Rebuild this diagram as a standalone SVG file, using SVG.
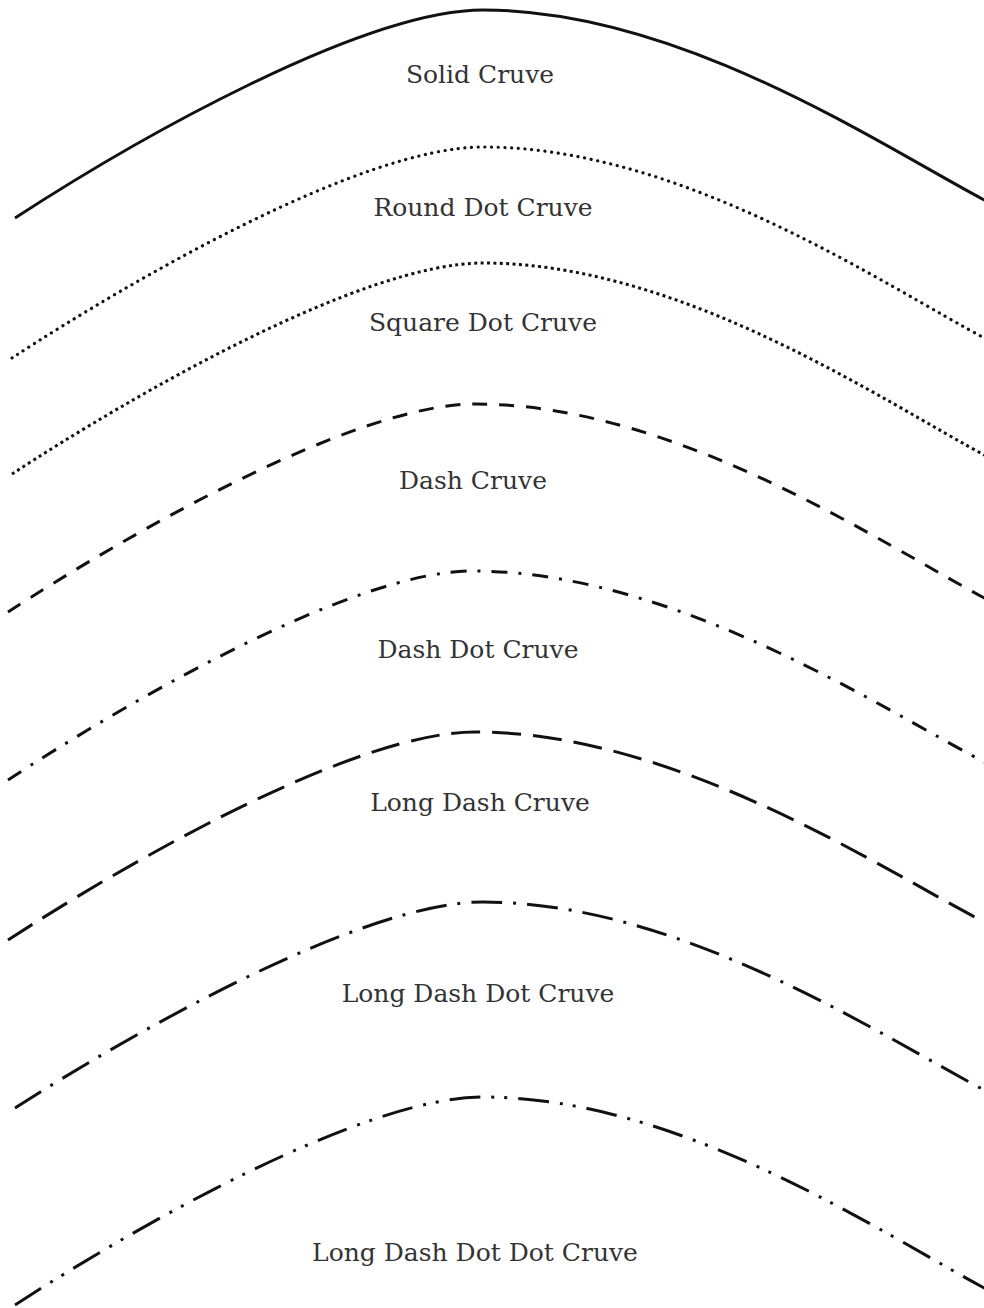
<svg xmlns="http://www.w3.org/2000/svg" width="984" height="1308" viewBox="0 0 984 1308">
<style>
.c{fill:none;stroke:#111;stroke-width:3}
.solid{stroke-width:3}
.round{stroke-dasharray:0.1 6.6;stroke-linecap:round;stroke-width:3.2}
.square{stroke-dasharray:3 3.4;stroke-width:3}
.dash{stroke-dasharray:15 12}
.dashdot{stroke-dasharray:16 11 3 11}
.longdash{stroke-dasharray:29 12}
.ldd{stroke-dasharray:31 11 3 11}
.lddd{stroke-dasharray:31 11 3 10 3 11}
text{font-family:"DejaVu Serif","Liberation Serif",serif;font-size:25px;fill:#333;text-anchor:middle}
</style>
<rect width="984" height="1308" fill="#fff"/>
<g id="solid">
<path class="c solid" d="M15 218 C135 140 363 10 483 10 C682 10 884 147.5 988 202"/>
<text x="480" y="83">Solid Cruve</text>
</g>
<g id="round-dot">
<path class="c round" d="M12 358 C133 279 362 147 483 147 C682 147 884 285 988 340"/>
<text x="483" y="216">Round Dot Cruve</text>
</g>
<g id="square-dot">
<path class="c square" d="M12 474 C133 395 362 263 483 263 C682 263 884 402 988 457"/>
<text x="483" y="331">Square Dot Cruve</text>
</g>
<g id="dash">
<path class="c dash" d="M8 612 C128 534 355 404 475 404 C677 404 882 544 988 600"/>
<text x="473" y="489">Dash Cruve</text>
</g>
<g id="dash-dot">
<path class="c dashdot" d="M8 780 C127 702 353 571 472 571 C675 571 882 709 988 764"/>
<text x="478" y="658">Dash Dot Cruve</text>
</g>
<g id="long-dash">
<path class="c longdash" d="M8 940 C128 862 355 732 475 732 C677 732 882 869.5 988 924"/>
<text x="480" y="811">Long Dash Cruve</text>
</g>
<g id="long-dash-dot">
<path class="c ldd" d="M15 1108 C135 1031 363 902 483 902 C682 902 884 1038 988 1092"/>
<text x="478" y="1002">Long Dash Dot Cruve</text>
</g>
<g id="long-dash-dot-dot">
<path class="c lddd" d="M15 1305 C135 1227 363 1097 483 1097 C682 1097 884 1235 988 1290"/>
<text x="475" y="1261">Long Dash Dot Dot Cruve</text>
</g>
</svg>
